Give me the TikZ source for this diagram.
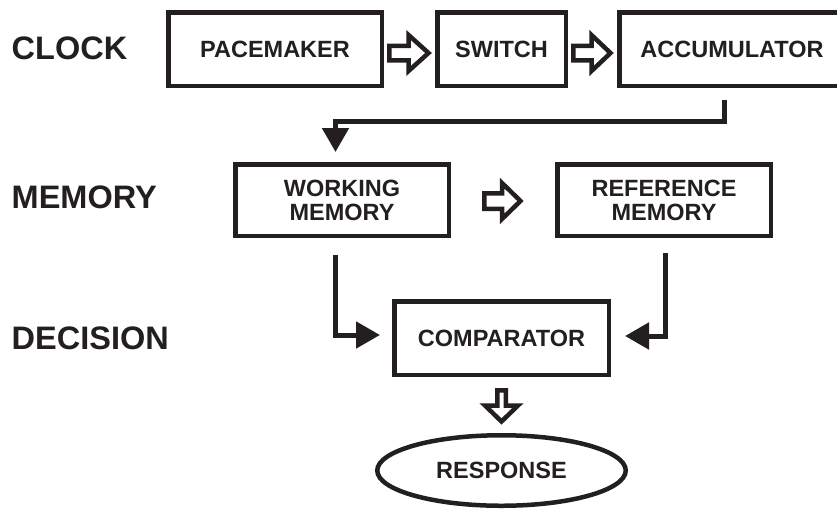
\documentclass[tikz,border=0pt]{standalone}
\usepackage{fontspec}
\setmainfont{Liberation Sans}
\usetikzlibrary{calc,arrows.meta,shapes.geometric}
\definecolor{ink}{HTML}{231F20}
\tikzset{
  box/.style={draw=ink, line width=4.5pt, rectangle, inner sep=0pt, text=ink,
    font=\fontsize{23.5}{24}\selectfont\bfseries, align=center},
  lbl/.style={anchor=base west, inner sep=0pt, text=ink,
    font=\fontsize{32.5}{36}\selectfont\bfseries},
  conn/.style={draw=ink, line width=5pt, line join=miter,
    -{Triangle[length=24pt,width=26pt]}},
  hollowline/.style={draw=ink, line width=4.5pt, line join=miter, fill=white},
  pics/hollow/.style n args={3}{code={
    \draw[hollowline] ({-#1/2+2.25},{-#3+2.25}) -- (-1,{-#3+2.25}) -- (-1,{-#2+3})
      -- ({#1/2-3.5},0) -- (-1,{#2-3}) -- (-1,{#3-2.25})
      -- ({-#1/2+2.25},{#3-2.25}) -- cycle;
  }}
}
\begin{document}
\begin{tikzpicture}[x=1pt,y=-1pt]
\useasboundingbox (0,0) rectangle (837,512);
\clip (0,0) rectangle (837,512);
\fill[white] (0,0) rectangle (837,512);

% row labels
\node[lbl] (lclock) at (11.5,59) {CLOCK};
\node[lbl] (lmem) at (11.5,208) {MEMORY};
\node[lbl] (ldec) at (11.5,349) {DECISION};

% boxes
\node[box, minimum width=213.5pt, minimum height=73.5pt] (pace) at (275,49) {PACEMAKER};
\node[box, minimum width=128.5pt, minimum height=73.5pt] (sw) at (501.5,49) {SWITCH};
\node[box, minimum width=225.5pt, minimum height=73.5pt] (acc) at (732,49) {ACCUMULATOR};
\node[box, minimum width=213.5pt, minimum height=71.5pt] (wm) at (342,200) {WORKING\\MEMORY};
\node[box, minimum width=213.5pt, minimum height=71.5pt] (rm) at (664,200) {REFERENCE\\MEMORY};
\node[box, minimum width=214.5pt, minimum height=73.5pt] (cmp) at (501.5,338) {COMPARATOR};
\node[box, ellipse, minimum width=248.5pt, minimum height=70.5pt] (resp) at (501.5,470.5) {RESPONSE};

% hollow arrows
\pic at ($(pace.east)!0.5!(sw.west)+(0,4)$) {hollow={45}{21}{9.5}};
\pic at ($(sw.east)!0.5!(acc.west)+(0,4)$) {hollow={43}{21}{9.5}};
\pic at ($(wm.east)!0.5!(rm.west)+(0,1)$) {hollow={42}{21}{10}};
\pic[rotate=-90] at ($(cmp.south)!0.5!(resp.north)+(0,1.5)$) {hollow={37}{19.5}{6.5}};

% connectors
\draw[conn] ([xshift=-8pt,yshift=-12pt]acc.south) -- ++(0,21)
  -| ([xshift=-6.5pt,yshift=10pt]wm.north);
\draw[conn] ([xshift=-6.5pt,yshift=-17pt]wm.south)
  |- ([xshift=-12pt,yshift=3pt]cmp.west);
\draw[conn] ([xshift=1pt,yshift=-15pt]rm.south)
  |- ([xshift=14pt,yshift=2pt]cmp.east);
\end{tikzpicture}
\end{document}
